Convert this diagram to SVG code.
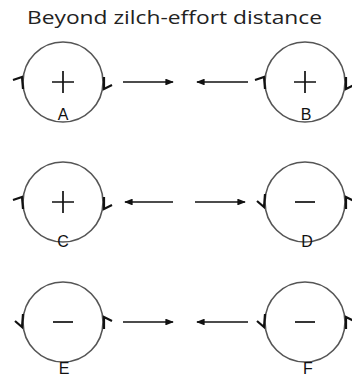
<svg xmlns="http://www.w3.org/2000/svg" width="352" height="378" viewBox="0 0 352 378">
<style>
.ring{fill:none;stroke:#555;stroke-width:1.6}
.sign{stroke:#111;stroke-width:1.7;fill:none}
.hook{stroke:#111;stroke-width:2.2;fill:none;stroke-linejoin:miter}
.lbl{font-family:"Liberation Sans",Arial,sans-serif;font-size:16px;fill:#111;text-anchor:middle}
.title{font-family:"Open Sans","Liberation Sans",sans-serif;font-size:18px;fill:#222}
.arr{stroke:#111;stroke-width:1.7;fill:none;marker-end:url(#ah)}
</style>
<defs>
<marker id="ah" viewBox="0 0 10 8" refX="9" refY="4" markerWidth="5" markerHeight="4" orient="auto" markerUnits="strokeWidth">
<path d="M0,0 L10,4 L0,8 Z" fill="#111"/>
</marker>
</defs>
<rect width="352" height="378" fill="#fff"/>
<text class="title" x="27" y="24" textLength="295" lengthAdjust="spacingAndGlyphs">Beyond zilch-effort distance</text>

<g id="A">
<circle class="ring" cx="63" cy="82" r="40"/>
<path class="sign" d="M52,82 H74 M63,71 V93"/>
<path class="hook" d="M13,80 L22,77 L23,89"/>
<path class="hook" d="M104,77 L104,89 L112,85"/>
<text class="lbl" x="63" y="120">A</text>
</g>
<g id="B">
<circle class="ring" cx="305" cy="82" r="40"/>
<path class="sign" d="M294,82 H316 M305,71 V93"/>
<path class="hook" d="M255,80 L264,77 L265,89"/>
<path class="hook" d="M346,77 L346,89 L354,85"/>
<text class="lbl" x="306" y="120">B</text>
</g>
<g id="C">
<circle class="ring" cx="63" cy="202" r="40"/>
<path class="sign" d="M52,202 H74 M63,191 V213"/>
<path class="hook" d="M13,200 L22,197 L23,209"/>
<path class="hook" d="M104,197 L104,209 L112,205"/>
<text class="lbl" x="63" y="247">C</text>
</g>
<g id="D">
<circle class="ring" cx="305" cy="202" r="40"/>
<path class="sign" d="M295,202 H315"/>
<path class="hook" d="M265,194 L264,207 L257,201"/>
<path class="hook" d="M346,209 L346,197 L354,201"/>
<text class="lbl" x="307" y="247">D</text>
</g>
<g id="E">
<circle class="ring" cx="63" cy="322" r="40"/>
<path class="sign" d="M53,322 H73"/>
<path class="hook" d="M23,314 L22,327 L15,321"/>
<path class="hook" d="M104,329 L104,317 L112,321"/>
<text class="lbl" x="64" y="374">E</text>
</g>
<g id="F">
<circle class="ring" cx="305" cy="322" r="40"/>
<path class="sign" d="M295,322 H315"/>
<path class="hook" d="M265,314 L264,327 L257,321"/>
<path class="hook" d="M346,329 L346,317 L354,321"/>
<text class="lbl" x="308" y="374">F</text>
</g>

<g id="connectors">
<line class="arr" x1="123" y1="82" x2="173" y2="82"/>
<line class="arr" x1="248" y1="82" x2="197" y2="82"/>
<line class="arr" x1="173" y1="202" x2="125" y2="202"/>
<line class="arr" x1="195" y1="202" x2="245" y2="202"/>
<line class="arr" x1="123" y1="322" x2="173" y2="322"/>
<line class="arr" x1="248" y1="322" x2="197" y2="322"/>
</g>
</svg>
